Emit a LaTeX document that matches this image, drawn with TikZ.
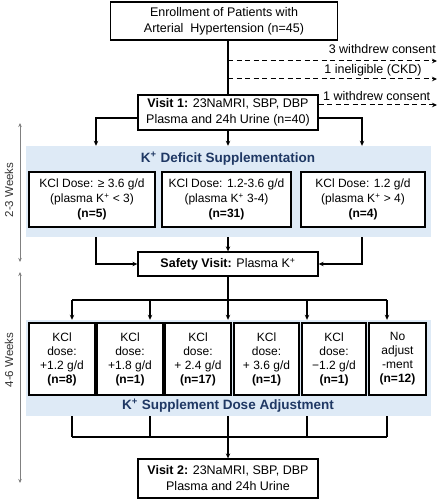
\documentclass[tikz,border=0pt]{standalone}
\usepackage{fontspec}
\setmainfont{Liberation Sans}
\usetikzlibrary{arrows.meta}
\definecolor{bandblue}{RGB}{222,234,246}
\definecolor{titleblue}{RGB}{31,56,100}

\begin{document}
\begin{tikzpicture}[x=1pt,y=-1pt,
  box/.style={draw,fill=white,line width=1.3pt,align=center,inner sep=0pt,font=\fontsize{12}{15}\selectfont},
  bigbox/.style={box,font=\fontsize{12.5}{16}\selectfont},
  band/.style={fill=bandblue,draw=none,inner sep=0pt},
  arr/.style={line width=1.1pt,-{Stealth[length=5pt,width=4.5pt]}},
  link/.style={line width=1.1pt},
  drop/.style={line width=1pt,dash pattern=on 5pt off 3.5pt,-{Stealth[length=5pt,width=4.5pt]}},
  note/.style={font=\fontsize{12.5}{14}\selectfont,inner sep=0pt},
  title/.style={font=\bfseries\fontsize{13.5}{15}\selectfont,text=titleblue,inner sep=0pt},
  span/.style={draw=gray,line width=0.9pt,{Stealth[length=4pt,width=3.5pt]}-{Stealth[length=4pt,width=3.5pt]}},
  weeks/.style={rotate=90,font=\fontsize{11.5}{13}\selectfont,text=black!80,inner sep=0pt}]
\useasboundingbox (0,0) rectangle (440,502);

\node[band,minimum width=405pt,minimum height=91pt] (defband) at (228.5,191.5) {};
\node[band,minimum width=405pt,minimum height=96pt] (adjband) at (228.5,368) {};

\node[bigbox,minimum width=227pt,minimum height=38pt] (enrol) at (224,21) {Enrollment of Patients with\\Arterial~ Hypertension (n=45)};
\node[bigbox,minimum width=180pt,minimum height=35pt] (visit1) at (228,112.5) {\textbf{Visit 1:} 23NaMRI, SBP, DBP\\Plasma and 24h Urine (n=40)};

\node[title] at (228,159) {K\textsuperscript{+} Deficit Supplementation};
\node[box,minimum width=126pt,minimum height=55pt] (dose1) at (92,199.5) {KCl Dose: ≥ 3.6 g/d\\(plasma K\textsuperscript{+} < 3)\\\textbf{(n=5)}};
\node[box,minimum width=129pt,minimum height=55pt] (dose2) at (226.5,199.5) {KCl Dose: 1.2-3.6 g/d\\(plasma K\textsuperscript{+} 3-4)\\\textbf{(n=31)}};
\node[box,minimum width=124pt,minimum height=55pt] (dose3) at (363,199.5) {KCl Dose: 1.2 g/d\\(plasma K\textsuperscript{+} > 4)\\\textbf{(n=4)}};

\node[bigbox,minimum width=180pt,minimum height=24pt] (safety) at (228,264) {\textbf{Safety Visit:} Plasma K\textsuperscript{+}};

\foreach \x/\w/\txt [count=\i] in {62/66/{KCl\\dose:\\+1.2 g/d\\\textbf{(n=8)}},
    130/66/{KCl\\dose:\\+1.8 g/d\\\textbf{(n=1)}},
    198/66/{KCl\\dose:\\+ 2.4 g/d\\\textbf{(n=17)}},
    266.5/65/{KCl\\dose:\\+ 3.6 g/d\\\textbf{(n=1)}},
    334/64/{KCl\\dose:\\−1.2 g/d\\\textbf{(n=1)}},
    397.5/57/{No\\adjust\\-ment\\\textbf{(n=12)}}}
  \node[box,font=\fontsize{12}{14}\selectfont,minimum width=\w pt,minimum height=72pt] (adj\i) at (\x,359) {\txt};
\node[title] at (228,406) {K\textsuperscript{+} Supplement Dose Adjustment};

\node[bigbox,minimum width=180pt,minimum height=39pt] (visit2) at (228,478.5) {\textbf{Visit 2:} 23NaMRI, SBP, DBP\\Plasma and 24h Urine};

\draw[link] (visit1 |- enrol.south) -- (visit1.north);
\coordinate (out1) at (437,61);
\coordinate (out2) at (437,79);
\coordinate (out3) at (437,105);
\draw[drop] (visit1 |- out1) -- (out1);
\draw[drop] (visit1 |- out2) -- (out2);
\draw[drop] (visit1.east |- out3) -- (out3);
\node[note,anchor=base east] at (436,54) {3 withdrew consent};
\node[note,anchor=base] at (373,74) {1 ineligible (CKD)};
\node[note,anchor=base west] at (323,101) {1 withdrew consent};

\coordinate (splitL) at (96,118);
\coordinate (splitR) at (362,118);
\draw[arr] (visit1.west |- splitL) -| (splitL |- defband.north);
\draw[arr] (visit1.east |- splitR) -| (splitR |- defband.north);
\draw[arr] (visit1.south) -- (visit1 |- defband.north);
\draw[arr] (splitL |- defband.south) |- (safety.west);
\draw[arr] (splitR |- defband.south) |- (safety.east);
\draw[arr] (visit1 |- defband.south) -- (safety.north);

\coordinate (bus) at (228,300);
\draw[link] (safety.south) -- (bus);
\foreach \x [count=\i] in {72,150,228,307,387} {
  \coordinate (up\i) at (\x,300);
  \coordinate (lo\i) at (\x,437);
}
\draw[link] (up1) -- (up5);
\draw[link] (lo1) -- (lo5);
\foreach \i in {1,...,5} {
  \draw[arr] (up\i) -- (up\i |- adjband.north);
  \draw[link] (lo\i |- adjband.south) -- (lo\i);
}
\draw[arr] (lo3) -- (visit2.north);

\coordinate (wk1a) at (20,123);
\coordinate (wk1b) at (20,262);
\coordinate (wk2a) at (20,272);
\coordinate (wk2b) at (20,483);
\draw[span] (wk1a) -- (wk1b);
\draw[span] (wk2a) -- (wk2b);
\node[weeks] at (9,190) {2-3 Weeks};
\node[weeks] at (9,360) {4-6 Weeks};
\end{tikzpicture}
\end{document}
